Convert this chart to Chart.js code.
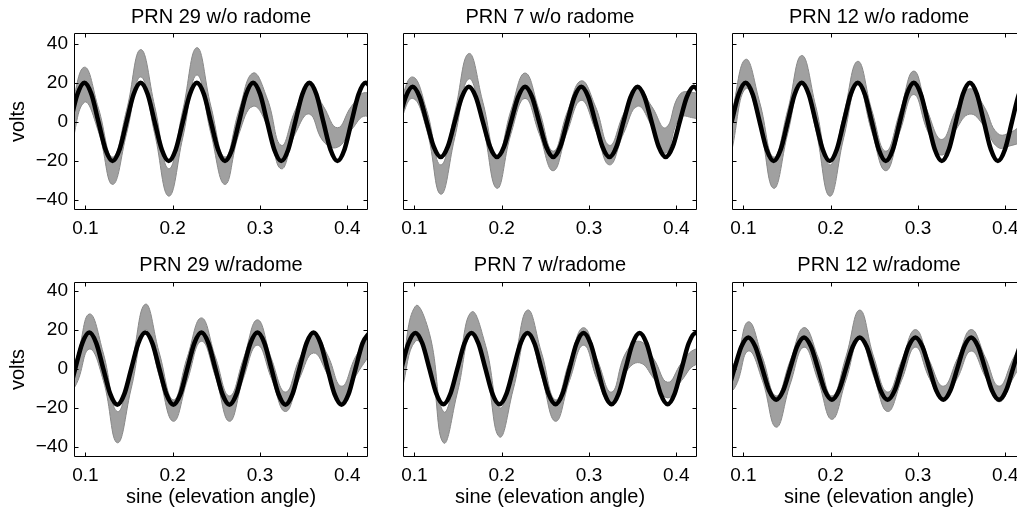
<!DOCTYPE html>
<html>
<head>
<meta charset="utf-8">
<script src="https://cdn.jsdelivr.net/npm/chart.js@4.4.1/dist/chart.umd.min.js"></script>
<style>
  html, body { margin: 0; padding: 0; background: #fff; overflow: hidden; width: 1017px; height: 514px; }
  canvas { position: absolute; }
</style>
</head>
<body>
<script>
// tick labels and titles
const xTicks = [0.1, 0.2, 0.3, 0.4];
const xTickLabels = ['0.1', '0.2', '0.3', '0.4'];
const yTicks = [-40, -20, 0, 20, 40];
const yTickLabels = ['\u221240', '\u221220', '0', '20', '40'];
const titles = ['PRN 29 w/o radome', 'PRN 7 w/o radome', 'PRN 12 w/o radome',
                'PRN 29 w/radome', 'PRN 7 w/radome', 'PRN 12 w/radome'];

// fitted curves (black): x = sine of elevation, y = volts
const fitX1 = [0.0828, 0.0909, 0.0989, 0.1070, 0.1150, 0.1231, 0.1311, 0.1392, 0.1472, 0.1553, 0.1633, 0.1714, 0.1794, 0.1875, 0.1955, 0.2036, 0.2116, 0.2197, 0.2277, 0.2358, 0.2438, 0.2519, 0.2599, 0.2680, 0.2760, 0.2841, 0.2921, 0.3002, 0.3082, 0.3163, 0.3243, 0.3324, 0.3404, 0.3485, 0.3565, 0.3646, 0.3726, 0.3807, 0.3887, 0.3968, 0.4048, 0.4129, 0.4209, 0.4290, 0.4370];
const fitY1 = [0, 14.1, 20, 14.1, 0, -14.1, -20, -14.1, 0, 14.1, 20, 14.1, 0, -14.1, -20, -14.1, 0, 14.1, 20, 14.1, 0, -14.1, -20, -14.1, 0, 14.1, 20, 14.1, 0, -14.1, -20, -14.1, 0, 14.1, 20, 14.1, 0, -14.1, -20, -14.1, 0, 14.1, 20, 14.1, 0];
const fitX2 = [0.0819, 0.0900, 0.0980, 0.1061, 0.1141, 0.1222, 0.1302, 0.1383, 0.1463, 0.1544, 0.1624, 0.1705, 0.1785, 0.1866, 0.1946, 0.2027, 0.2107, 0.2188, 0.2268, 0.2349, 0.2429, 0.2510, 0.2590, 0.2671, 0.2751, 0.2832, 0.2912, 0.2993, 0.3073, 0.3154, 0.3234, 0.3315, 0.3395, 0.3476, 0.3556, 0.3637, 0.3717, 0.3798, 0.3878, 0.3959, 0.4039, 0.4120, 0.4200, 0.4281, 0.4361];
const fitY2 = [0, 12.7, 18, 12.7, 0, -12.7, -18, -12.7, 0, 12.7, 18, 12.7, 0, -12.7, -18, -12.7, 0, 12.7, 18, 12.7, 0, -12.7, -18, -12.7, 0, 12.7, 18, 12.7, 0, -12.7, -18, -12.7, 0, 12.7, 18, 12.7, 0, -12.7, -18, -12.7, 0, 12.7, 18, 12.7, 0];
const fitX3 = [0.0866, 0.0946, 0.1026, 0.1107, 0.1187, 0.1267, 0.1347, 0.1428, 0.1508, 0.1588, 0.1668, 0.1749, 0.1829, 0.1909, 0.1989, 0.2070, 0.2150, 0.2230, 0.2310, 0.2391, 0.2471, 0.2551, 0.2631, 0.2712, 0.2792, 0.2872, 0.2952, 0.3033, 0.3113, 0.3193, 0.3273, 0.3354, 0.3434, 0.3514, 0.3594, 0.3675, 0.3755, 0.3835, 0.3915, 0.3996, 0.4076, 0.4156, 0.4236, 0.4317, 0.4397];
const fitY3 = [0, 14.1, 20, 14.1, 0, -14.1, -20, -14.1, 0, 14.1, 20, 14.1, 0, -14.1, -20, -14.1, 0, 14.1, 20, 14.1, 0, -14.1, -20, -14.1, 0, 14.1, 20, 14.1, 0, -14.1, -20, -14.1, 0, 14.1, 20, 14.1, 0, -14.1, -20, -14.1, 0, 14.1, 20, 14.1, 0];
const fitX4 = [0.0724, 0.0804, 0.0884, 0.0965, 0.1045, 0.1125, 0.1205, 0.1286, 0.1366, 0.1446, 0.1526, 0.1607, 0.1687, 0.1767, 0.1847, 0.1928, 0.2008, 0.2088, 0.2168, 0.2249, 0.2329, 0.2409, 0.2489, 0.2570, 0.2650, 0.2730, 0.2810, 0.2891, 0.2971, 0.3051, 0.3131, 0.3212, 0.3292, 0.3372, 0.3452, 0.3533, 0.3613, 0.3693, 0.3773, 0.3854, 0.3934, 0.4014, 0.4094, 0.4175, 0.4255];
const fitY4 = [-18.5, -13.1, 0, 13.1, 18.5, 13.1, 0, -13.1, -18.5, -13.1, 0, 13.1, 18.5, 13.1, 0, -13.1, -18.5, -13.1, 0, 13.1, 18.5, 13.1, 0, -13.1, -18.5, -13.1, 0, 13.1, 18.5, 13.1, 0, -13.1, -18.5, -13.1, 0, 13.1, 18.5, 13.1, 0, -13.1, -18.5, -13.1, 0, 13.1, 18.5];
const fitX5 = [0.0851, 0.0931, 0.1012, 0.1092, 0.1172, 0.1252, 0.1333, 0.1413, 0.1493, 0.1573, 0.1654, 0.1734, 0.1814, 0.1894, 0.1975, 0.2055, 0.2135, 0.2215, 0.2296, 0.2376, 0.2456, 0.2536, 0.2617, 0.2697, 0.2777, 0.2857, 0.2938, 0.3018, 0.3098, 0.3178, 0.3259, 0.3339, 0.3419, 0.3499, 0.3580, 0.3660, 0.3740, 0.3820, 0.3901, 0.3981, 0.4061, 0.4141, 0.4222, 0.4302, 0.4382];
const fitY5 = [0, 12.9, 18.3, 12.9, 0, -12.9, -18.3, -12.9, 0, 12.9, 18.3, 12.9, 0, -12.9, -18.3, -12.9, 0, 12.9, 18.3, 12.9, 0, -12.9, -18.3, -12.9, 0, 12.9, 18.3, 12.9, 0, -12.9, -18.3, -12.9, 0, 12.9, 18.3, 12.9, 0, -12.9, -18.3, -12.9, 0, 12.9, 18.3, 12.9, 0];
const fitX6 = [0.0738, 0.0818, 0.0898, 0.0977, 0.1057, 0.1137, 0.1217, 0.1296, 0.1376, 0.1456, 0.1536, 0.1615, 0.1695, 0.1775, 0.1855, 0.1934, 0.2014, 0.2094, 0.2174, 0.2253, 0.2333, 0.2413, 0.2493, 0.2572, 0.2652, 0.2732, 0.2812, 0.2891, 0.2971, 0.3051, 0.3131, 0.3210, 0.3290, 0.3370, 0.3450, 0.3529, 0.3609, 0.3689, 0.3769, 0.3848, 0.3928, 0.4008, 0.4088, 0.4167, 0.4247];
const fitY6 = [-16, -11.3, 0, 11.3, 16, 11.3, 0, -11.3, -16, -11.3, 0, 11.3, 16, 11.3, 0, -11.3, -16, -11.3, 0, 11.3, 16, 11.3, 0, -11.3, -16, -11.3, 0, 11.3, 16, 11.3, 0, -11.3, -16, -11.3, 0, 11.3, 16, 11.3, 0, -11.3, -16, -11.3, 0, 11.3, 16];

// measured traces (gray): upper and lower edge of the noisy band
const rawX1 = [0.0828, 0.0989, 0.1150, 0.1311, 0.1472, 0.1633, 0.1794, 0.1955, 0.2116, 0.2277, 0.2438, 0.2599, 0.2760, 0.2921, 0.3082, 0.3243, 0.3404, 0.3565, 0.3726, 0.3887, 0.4048, 0.4209, 0.4370];
const rawHi1 = [5, 28, 7, -18, 6, 37, 8, -24, 6, 38, 8, -18, 6, 25, 12, -12, 6, 19, 8, -3, 8, 15, 8];
const rawLo1 = [-15, 10, -5, -32, -6, 23, -6, -38, -8, 24, -6, -32, -6, 8, -2, -24, -6, 4, -10, -13, -4, 3, -4];
const rawX2 = [0.0819, 0.0980, 0.1141, 0.1302, 0.1463, 0.1624, 0.1785, 0.1946, 0.2107, 0.2268, 0.2429, 0.2590, 0.2751, 0.2912, 0.3073, 0.3234, 0.3395, 0.3556, 0.3717, 0.3878, 0.4039, 0.4200, 0.4361];
const rawHi2 = [8, 23, 6, -22, 5, 35, 10, -18, 6, 25, 6, -15, 5, 21, 8, -12, 4, 17, 8, -3, 14, 15, 12];
const rawLo2 = [-2, 12, -4, -37, -8, 22, -2, -34, -6, 12, -6, -25, -5, 11, -4, -22, -6, 8, -2, -16, 2, 2, 0];
const rawX3 = [0.0866, 0.1026, 0.1187, 0.1347, 0.1508, 0.1668, 0.1829, 0.1989, 0.2150, 0.2310, 0.2471, 0.2631, 0.2792, 0.2952, 0.3113, 0.3273, 0.3434, 0.3594, 0.3755, 0.3915, 0.4076, 0.4236, 0.4397];
const rawHi3 = [4, 32, 10, -18, 6, 34, 8, -22, 4, 31, 6, -15, 5, 26, 5, -9, 6, 17, 8, -6, -5, 0, 0];
const rawLo3 = [-15, 17, -2, -34, -6, 21, -4, -38, -8, 19, -5, -25, -5, 14, -5, -17, -4, 4, -2, -13, -12, -10, -10];
const rawX4 = [0.0724, 0.0884, 0.1045, 0.1205, 0.1366, 0.1526, 0.1687, 0.1847, 0.2008, 0.2168, 0.2329, 0.2489, 0.2650, 0.2810, 0.2971, 0.3131, 0.3292, 0.3452, 0.3613, 0.3773, 0.3934, 0.4094, 0.4255];
const rawHi4 = [-5, 4, 28, 8, -22, 2, 33, 8, -16, 6, 26, 6, -14, 5, 25, 5, -12, 5, 18, 7, -9, 6, 17];
const rawLo4 = [-15, -9, 10, -6, -38, -10, 20, -4, -27, -6, 14, -4, -27, -5, 12, -5, -22, -5, 8, -3, -18, -4, 7];
const rawX5 = [0.0851, 0.1012, 0.1173, 0.1333, 0.1494, 0.1654, 0.1815, 0.1975, 0.2136, 0.2296, 0.2457, 0.2617, 0.2778, 0.2938, 0.3099, 0.3259, 0.3420, 0.3580, 0.3741, 0.3901, 0.4062, 0.4222, 0.4383];
const rawHi5 = [-2, 32, 18, -22, 0, 29, 12, -20, 2, 30, 8, -16, 4, 21, 4, -12, 8, 14, 5, -7, 3, 10, 8];
const rawLo5 = [-12, 14, 4, -38, -12, 18, 0, -35, -10, 18, -4, -27, -6, 12, -6, -19, -2, 3, -5, -15, -6, 2, 0];
const rawX6 = [0.0738, 0.0898, 0.1057, 0.1217, 0.1376, 0.1536, 0.1695, 0.1855, 0.2014, 0.2174, 0.2333, 0.2493, 0.2652, 0.2812, 0.2971, 0.3131, 0.3290, 0.3450, 0.3609, 0.3769, 0.3928, 0.4088, 0.4247];
const rawHi6 = [-2, 3, 24, 6, -14, 4, 21, 6, -14, 6, 30, 6, -12, 4, 20, 4, -9, 5, 20, 6, -9, 5, 18];
const rawLo6 = [-14, -10, 9, -6, -30, -8, 11, -6, -26, -6, 15, -4, -22, -6, 11, -5, -16, -5, 9, -4, -17, -5, 8];

const panels = [
  [fitX1, fitY1, rawX1, rawHi1, rawLo1],
  [fitX2, fitY2, rawX2, rawHi2, rawLo2],
  [fitX3, fitY3, rawX3, rawHi3, rawLo3],
  [fitX4, fitY4, rawX4, rawHi4, rawLo4],
  [fitX5, fitY5, rawX5, rawHi5, rawLo5],
  [fitX6, fitY6, rawX6, rawHi6, rawLo6],
];

Chart.defaults.font.family = '"Liberation Sans", Arial, Helvetica, sans-serif';
Chart.defaults.color = '#000';

// box round the plot with inward ticks on all four sides
const frame = {
  id: 'frame',
  afterDatasetsDraw(chart) {
    const { ctx, chartArea: a, scales: { x, y } } = chart;
    const L = Math.round(a.left) + 0.5, R = Math.round(a.right) - 0.5;
    const T = Math.round(a.top) + 0.5, B = Math.round(a.bottom) - 0.5;
    ctx.save();
    ctx.strokeStyle = '#000';
    ctx.lineWidth = 1;
    ctx.beginPath();
    x.ticks.forEach(t => {
      const p = Math.round(x.getPixelForValue(t.value)) + 0.5;
      ctx.moveTo(p, B); ctx.lineTo(p, B - 4);
      ctx.moveTo(p, T); ctx.lineTo(p, T + 4);
    });
    y.ticks.forEach(t => {
      const p = Math.round(y.getPixelForValue(t.value)) + 0.5;
      ctx.moveTo(L, p); ctx.lineTo(L + 4, p);
      ctx.moveTo(R, p); ctx.lineTo(R - 4, p);
    });
    ctx.rect(L, T, R - L, B - T);
    ctx.stroke();
    ctx.restore();
  }
};

const colLeft = [0, 380, 712], colWidth = [380, 340, 340];
const plotLeft = [0, 23, 20], plotRightPad = [12, 23, 26], yAxisWidth = [74, 0, 0];
const rowTop = [0, 250], rowHeight = [250, 264];
const titlePad = [{ top: 5, bottom: 4 }, { top: 3, bottom: 5 }];
const xAxisHeight = [40, 57];
const yRange = [[-45.1, 45.5], [-45.3, 44.4]];

panels.forEach(([fx, fy, rx, rhi, rlo], i) => {
  const row = Math.floor(i / 3), col = i % 3;
  const cv = document.createElement('canvas');
  cv.width = colWidth[col];
  cv.height = rowHeight[row];
  cv.style.left = colLeft[col] + 'px';
  cv.style.top = rowTop[row] + 'px';
  document.body.appendChild(cv);

  new Chart(cv.getContext('2d'), {
    type: 'line',
    data: {
      datasets: [
        {
          data: fx.map((x, k) => ({ x, y: fy[k] })),
          borderColor: '#000',
          borderWidth: 4.5,
          cubicInterpolationMode: 'monotone',
          clip: 0,
        },
        {
          data: rx.map((x, k) => ({ x, y: rlo[k] })),
          borderColor: '#888',
          borderWidth: 1,
          tension: 0.45,
          clip: 0,
        },
        {
          data: rx.map((x, k) => ({ x, y: rhi[k] })),
          borderColor: '#888',
          backgroundColor: 'rgba(128, 128, 128, 0.75)',
          borderWidth: 1,
          tension: 0.45,
          fill: '-1',
          clip: 0,
        },
      ]
    },
    options: {
      responsive: false,
      animation: false,
      devicePixelRatio: 1,
      elements: { point: { radius: 0 } },
      layout: { padding: { left: plotLeft[col], right: plotRightPad[col], top: 0, bottom: 0 } },
      plugins: {
        legend: { display: false },
        tooltip: { enabled: false },
        title: {
          display: true,
          text: titles[i],
          fullSize: false,
          font: { size: 20, weight: 'normal' },
          color: '#000',
          padding: titlePad[row],
        }
      },
      scales: {
        x: {
          type: 'linear',
          min: 0.087,
          max: 0.4237,
          grid: { display: false, drawTicks: false },
          border: { display: false },
          afterBuildTicks: s => { s.ticks = xTicks.map(v => ({ value: v })); },
          afterFit: s => { s.height = xAxisHeight[row]; },
          ticks: {
            padding: 7,
            font: { size: 19 },
            maxRotation: 0,
            callback: v => xTickLabels[xTicks.indexOf(v)],
          },
          title: {
            display: row === 1,
            text: 'sine (elevation angle)',
            font: { size: 20 },
            padding: { top: 0, bottom: 4.5 },
          }
        },
        y: {
          min: yRange[row][0],
          max: yRange[row][1],
          grid: { display: false, drawTicks: false },
          border: { display: false },
          afterBuildTicks: s => { s.ticks = yTicks.map(v => ({ value: v })); },
          afterFit: s => { s.width = yAxisWidth[col]; },
          ticks: {
            display: col === 0,
            padding: 6,
            font: { size: 19 },
            callback: v => yTickLabels[yTicks.indexOf(v)],
          },
          title: {
            display: col === 0,
            text: 'volts',
            font: { size: 20 },
            padding: { top: 6.5, bottom: 0 },
          }
        }
      }
    },
    plugins: [frame]
  });
});
</script>
</body>
</html>
